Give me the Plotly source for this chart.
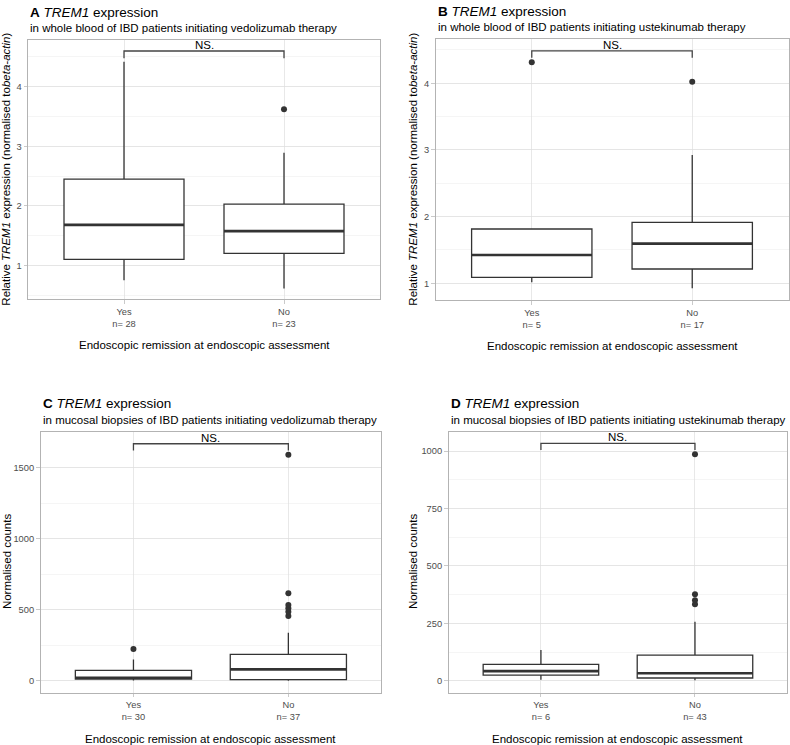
import plotly.graph_objects as go

# ---------------- data ----------------
groups = ["Yes", "No"]
group_pos = [1, 2]

# Panel A: whole blood, vedolizumab
A_n = [28, 23]
A_lo = [0.75, 0.61]
A_q1 = [1.10, 1.20]
A_med = [1.68, 1.575]
A_q3 = [2.45, 2.03]
A_hi = [4.42, 2.89]
A_out_yes = []
A_out_no = [3.62]
A_bracket = [4.48, 4.60]

# Panel B: whole blood, ustekinumab
B_n = [5, 17]
B_lo = [1.015, 0.925]
B_q1 = [1.09, 1.215]
B_med = [1.425, 1.595]
B_q3 = [1.815, 1.915]
B_hi = [1.815, 2.925]
B_out_yes = [4.315]
B_out_no = [4.025]
B_bracket = [4.385, 4.485]

# Panel C: mucosal biopsies, vedolizumab
C_n = [30, 37]
C_lo = [2, 0]
C_q1 = [13, 8]
C_med = [22, 81]
C_q3 = [74, 187]
C_hi = [151, 339]
C_out_yes = [224]
C_out_no = [456, 487, 511, 534, 616, 1591]
C_bracket = [1622, 1669]

# Panel D: mucosal biopsies, ustekinumab
D_n = [6, 43]
D_lo = [5, 2]
D_q1 = [25, 12]
D_med = [42, 33]
D_q3 = [71, 112]
D_hi = [134, 257]
D_out_yes = []
D_out_no = [333, 351, 377, 986]
D_bracket = [1004, 1033]

titles = ["A", "B", "C", "D"]
subtitles = [
    "in whole blood of IBD patients initiating vedolizumab therapy",
    "in whole blood of IBD patients initiating ustekinumab therapy",
    "in mucosal biopsies of IBD patients initiating vedolizumab therapy",
    "in mucosal biopsies of IBD patients initiating ustekinumab therapy",
]
ytitle_blood = "Relative <i>TREM1</i> expression (normalised to<i>beta-actin</i>)"
ytitle_mucosa = "Normalised counts"
xtitle = "Endoscopic remission at endoscopic assessment"

A_ticks = [1, 2, 3, 4]
B_ticks = [1, 2, 3, 4]
C_ticks = [0, 500, 1000, 1500]
D_ticks = [0, 250, 500, 750, 1000]

# ---------------- style / layout ----------------
W, H = 790, 745
FONT = "Liberation Sans, Arial, sans-serif"
BOXLINE = "#333333"
GRID = "#DEDEDE"
BORDER = "#B3B3B3"
TICKTXT = "#4D4D4D"

panels = [
    dict(lo=A_lo, q1=A_q1, med=A_med, q3=A_q3, hi=A_hi, outs=[A_out_yes, A_out_no],
         n=A_n, br=A_bracket, ticks=A_ticks, minor=0.5, yr=[0.43, 4.785],
         px=[28, 380], py=[40, 299.3], ytitle=ytitle_blood, ytx=6),
    dict(lo=B_lo, q1=B_q1, med=B_med, q3=B_q3, hi=B_hi, outs=[B_out_yes, B_out_no],
         n=B_n, br=B_bracket, ticks=B_ticks, minor=0.5, yr=[0.75, 4.66],
         px=[435.5, 788.5], py=[39.3, 300], ytitle=ytitle_blood, ytx=413),
    dict(lo=C_lo, q1=C_q1, med=C_med, q3=C_q3, hi=C_hi, outs=[C_out_yes, C_out_no],
         n=C_n, br=C_bracket, ticks=C_ticks, minor=250, yr=[-82, 1754],
         px=[40.5, 381.3], py=[431.7, 692.5], ytitle=ytitle_mucosa, ytx=7),
    dict(lo=D_lo, q1=D_q1, med=D_med, q3=D_q3, hi=D_hi, outs=[D_out_yes, D_out_no],
         n=D_n, br=D_bracket, ticks=D_ticks, minor=125, yr=[-51, 1084],
         px=[448.5, 787.4], py=[431.7, 692.5], ytitle=ytitle_mucosa, ytx=413),
]

fig = go.Figure()
annotations = []
layout_axes = {}

for i, p in enumerate(panels):
    k = "" if i == 0 else str(i + 1)
    xa, ya = "x" + k, "y" + k
    xdom = [p["px"][0] / W, p["px"][1] / W]
    ydom = [1 - p["py"][1] / H, 1 - p["py"][0] / H]

    # box
    fig.add_trace(go.Box(
        x=group_pos, q1=p["q1"], median=p["med"], q3=p["q3"],
        lowerfence=p["lo"], upperfence=p["hi"],
        width=0.75, whiskerwidth=0, fillcolor="white",
        line=dict(color=BOXLINE, width=1.3), boxpoints=False,
        showlegend=False, hoverinfo="skip", xaxis=xa, yaxis=ya,
    ))
    # thicker median lines
    for gx, m in zip(group_pos, p["med"]):
        fig.add_trace(go.Scatter(
            x=[gx - 0.375, gx + 0.375], y=[m, m], mode="lines",
            line=dict(color=BOXLINE, width=2.6), showlegend=False,
            hoverinfo="skip", xaxis=xa, yaxis=ya,
        ))
    # outliers
    for gx, outs in zip(group_pos, p["outs"]):
        if outs:
            fig.add_trace(go.Scatter(
                x=[gx] * len(outs), y=outs, mode="markers",
                marker=dict(color=BOXLINE, size=6), showlegend=False,
                hoverinfo="skip", xaxis=xa, yaxis=ya,
            ))
    # significance bracket
    tip, top = p["br"]
    fig.add_trace(go.Scatter(
        x=[group_pos[0], group_pos[0], group_pos[1], group_pos[1]],
        y=[tip, top, top, tip], mode="lines",
        line=dict(color="#444444", width=1.3), showlegend=False,
        hoverinfo="skip", xaxis=xa, yaxis=ya,
    ))
    annotations.append(dict(
        x=1.5, y=top, xref=xa, yref=ya, text="NS.", showarrow=False,
        yanchor="bottom", yshift=-2, font=dict(size=11.5, color="black", family=FONT),
    ))

    ticktext = [f"{g}<br>n= {n}" for g, n in zip(groups, p["n"])]
    layout_axes["xaxis" + k] = dict(
        domain=xdom, range=[0.4, 2.6], anchor=ya,
        tickmode="array", tickvals=group_pos, ticktext=ticktext,
        showgrid=True, gridcolor=GRID, gridwidth=0.7, zeroline=False,
        showline=True, mirror=True, linecolor=BORDER, linewidth=1,
        ticks="outside", ticklen=3.5, tickcolor=BORDER, tickwidth=0.7,
        tickfont=dict(size=9.3, color=TICKTXT, family=FONT),
    )
    layout_axes["yaxis" + k] = dict(
        domain=ydom, range=p["yr"], anchor=xa,
        tickmode="array", tickvals=p["ticks"],
        showgrid=True, gridcolor=GRID, gridwidth=0.7, zeroline=False,
        minor=dict(tick0=0, dtick=p["minor"], showgrid=True, gridcolor="#EBEBEB",
                   gridwidth=0.5, ticks=""),
        showline=True, mirror=True, linecolor=BORDER, linewidth=1,
        ticks="outside", ticklen=3.5, tickcolor=BORDER, tickwidth=0.7,
        tickfont=dict(size=9.3, color=TICKTXT, family=FONT),
    )

    # titles
    annotations.append(dict(
        x=p["px"][0] / W, y=1 - (p["py"][0] - 28) / H, xref="paper", yref="paper",
        text=f"<b>{titles[i]}</b> <i>TREM1</i> expression", showarrow=False,
        xanchor="left", yanchor="middle", font=dict(size=13.5, color="black", family=FONT),
    ))
    annotations.append(dict(
        x=p["px"][0] / W, y=1 - (p["py"][0] - 12) / H, xref="paper", yref="paper",
        text=subtitles[i], showarrow=False,
        xanchor="left", yanchor="middle", font=dict(size=11.5, color="black", family=FONT),
    ))
    # x title
    annotations.append(dict(
        x=(p["px"][0] + p["px"][1]) / 2 / W, y=1 - (p["py"][1] + 46) / H,
        xref="paper", yref="paper", text=xtitle, showarrow=False,
        xanchor="center", yanchor="middle", font=dict(size=11.5, color="black", family=FONT),
    ))
    # y title
    annotations.append(dict(
        x=p["ytx"] / W, y=1 - (p["py"][0] + p["py"][1]) / 2 / H,
        xref="paper", yref="paper", text=p["ytitle"], showarrow=False, textangle=-90,
        xanchor="center", yanchor="middle", font=dict(size=11.5, color="black", family=FONT),
    ))

fig.update_layout(
    width=W, height=H, autosize=False,
    margin=dict(l=0, r=0, t=0, b=0),
    paper_bgcolor="white", plot_bgcolor="white",
    font=dict(family=FONT),
    annotations=annotations,
    showlegend=False,
    hovermode=False,
    **layout_axes,
)

fig.write_html(
    "out.html",
    config={"displayModeBar": False, "staticPlot": True},
    post_script="document.body.style.margin='0px';document.body.style.overflow='hidden';",
)
